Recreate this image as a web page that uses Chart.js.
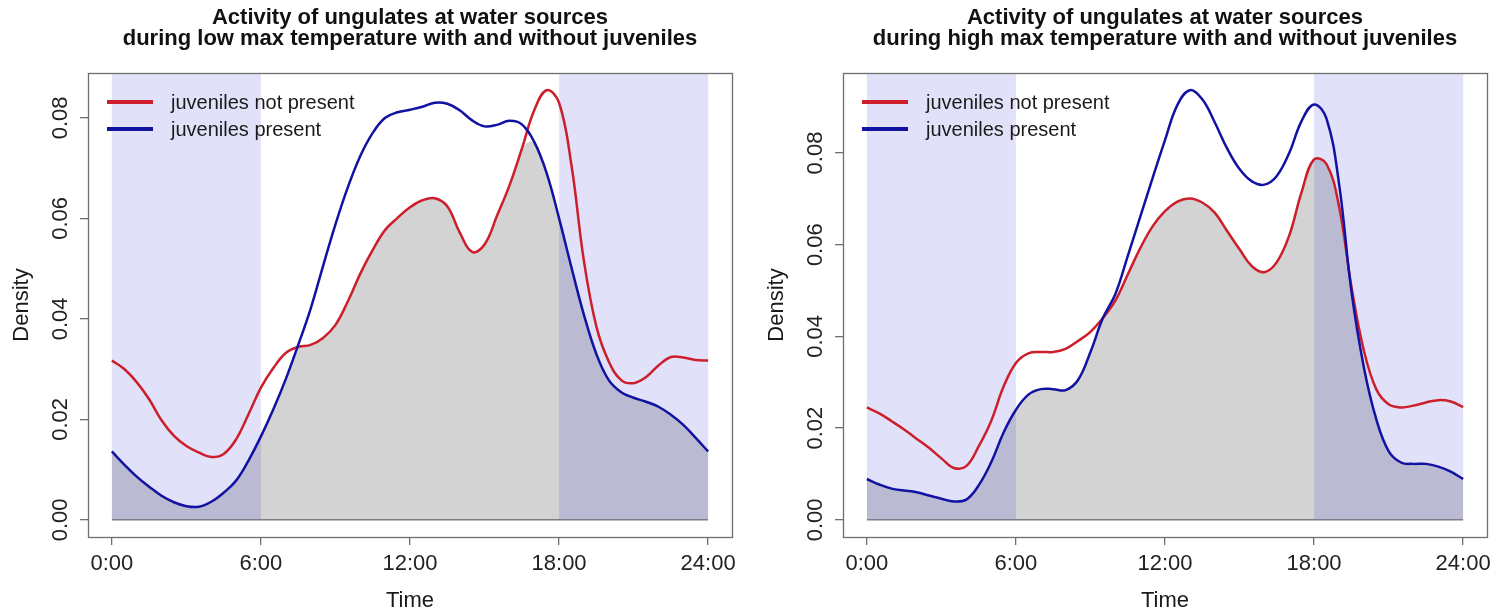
<!DOCTYPE html>
<html>
<head>
<meta charset="utf-8">
<script src="https://cdn.jsdelivr.net/npm/chart.js@4.4.1/dist/chart.umd.min.js"></script>
<style>
  html, body { margin: 0; padding: 0; background: #ffffff; }
  #wrap { position: relative; width: 1509px; height: 615px; overflow: hidden; }
  .panel { position: absolute; top: 0; height: 615px; }
</style>
</head>
<body>
<div id="wrap">
  <div class="panel" style="left:0;width:755px"><canvas id="lowTemp" width="755" height="615"></canvas></div>
  <div class="panel" style="left:755px;width:754px"><canvas id="highTemp" width="754" height="615"></canvas></div>
</div>
<script>
// Time of day (hours) at which the kernel densities are evaluated
const HOURS = [0, 0.5, 1, 1.5, 2, 2.5, 3, 3.5, 4, 4.5,
               5, 5.5, 6, 6.5, 7, 7.5, 8, 8.5, 9, 9.5,
               10, 10.5, 11, 11.5, 12, 12.5, 13, 13.5, 14, 14.5,
               15, 15.5, 16, 16.5, 17, 17.5, 18, 18.5, 19, 19.5,
               20, 20.5, 21, 21.5, 22, 22.5, 23, 23.5, 24];

// Low max temperature
const LOW_NO_JUV = [0.0317, 0.0300, 0.0274, 0.0240, 0.0198, 0.0167, 0.0147, 0.0134, 0.0125, 0.0131,
                    0.0160, 0.0210, 0.0263, 0.0302, 0.0332, 0.0344, 0.0348, 0.0362, 0.0388, 0.0435,
                    0.0490, 0.0537, 0.0577, 0.0601, 0.0622, 0.0636, 0.0640, 0.0624, 0.0572, 0.0533,
                    0.0548, 0.0605, 0.0665, 0.0738, 0.0815, 0.0855, 0.0830, 0.0705, 0.0515, 0.0385,
                    0.0315, 0.0278, 0.0272, 0.0284, 0.0307, 0.0324, 0.0323, 0.0318, 0.0317];
const LOW_JUV    = [0.0136, 0.0110, 0.0086, 0.0066, 0.0048, 0.0035, 0.0027, 0.0026, 0.0036, 0.0054,
                    0.0078, 0.0118, 0.0166, 0.0220, 0.0280, 0.0348, 0.0420, 0.0505, 0.0588, 0.0662,
                    0.0724, 0.0770, 0.0800, 0.0811, 0.0816, 0.0822, 0.0830, 0.0828, 0.0815, 0.0795,
                    0.0783, 0.0786, 0.0794, 0.0787, 0.0752, 0.0690, 0.0600, 0.0502, 0.0408, 0.0330,
                    0.0278, 0.0254, 0.0243, 0.0235, 0.0225, 0.0209, 0.0189, 0.0163, 0.0136];

// High max temperature
const HIGH_NO_JUV = [0.0245, 0.0232, 0.0215, 0.0197, 0.0177, 0.0157, 0.0134, 0.0113, 0.0117, 0.0160,
                     0.0215, 0.0290, 0.0342, 0.0363, 0.0366, 0.0366, 0.0373, 0.0390, 0.0410, 0.0440,
                     0.0478, 0.0535, 0.0592, 0.0640, 0.0673, 0.0694, 0.0701, 0.0692, 0.0670, 0.0630,
                     0.0590, 0.0553, 0.0540, 0.0562, 0.0620, 0.0715, 0.0786, 0.0776, 0.0685, 0.0510,
                     0.0370, 0.0285, 0.0252, 0.0245, 0.0249, 0.0256, 0.0261, 0.0258, 0.0246];
const HIGH_JUV    = [0.0089, 0.0077, 0.0068, 0.0064, 0.0060, 0.0053, 0.0046, 0.0040, 0.0044, 0.0075,
                     0.0125, 0.0190, 0.0240, 0.0273, 0.0285, 0.0285, 0.0283, 0.0305, 0.0366, 0.0440,
                     0.0492, 0.0575, 0.0660, 0.0745, 0.0828, 0.0905, 0.0937, 0.0917, 0.0867, 0.0810,
                     0.0765, 0.0738, 0.0731, 0.0750, 0.0800, 0.0870, 0.0906, 0.0875, 0.0735, 0.0500,
                     0.0334, 0.0220, 0.0150, 0.0125, 0.0122, 0.0122, 0.0116, 0.0105, 0.0089];

const X_TICKS = [0, 6, 12, 18, 24];
const X_TICK_LABELS = ['0:00', '6:00', '12:00', '18:00', '24:00'];
const Y_TICKS = [0, 0.02, 0.04, 0.06, 0.08];
const Y_TICK_LABELS = ['0.00', '0.02', '0.04', '0.06', '0.08'];
const NIGHT = [[0, 6], [18, 24]];
const SERIES_NAMES = ['juveniles not present', 'juveniles present'];
const TITLE_LOW = ['Activity of ungulates at water sources', 'during low max temperature with and without juveniles'];
const TITLE_HIGH = ['Activity of ungulates at water sources', 'during high max temperature with and without juveniles'];

const FONT = "'Liberation Sans', Arial, Helvetica, sans-serif";
const RED = '#cc1f2b';
const BLUE = '#1212a2';
const AXIS_GREY = '#6e6e6e';
const TEXT = '#1a1a1a';

Chart.defaults.font.family = FONT;
Chart.defaults.color = TEXT;

// Night periods shaded over the overlap area, under the density curves
const nightShade = {
  id: 'nightShade',
  afterDatasetDraw(chart, args) {
    if (!chart.data.datasets[args.index].overlapArea) return;
    const { ctx, chartArea, scales: { x, y } } = chart;
    const yZero = y.getPixelForValue(0);
    ctx.save();
    ctx.fillStyle = 'rgba(0, 0, 212, 0.118)';
    NIGHT.forEach(([a, b]) => {
      const x0 = x.getPixelForValue(a);
      const x1 = x.getPixelForValue(b);
      ctx.fillRect(x0, chartArea.top, x1 - x0, yZero - chartArea.top);
    });
    ctx.restore();
  }
};

// Frame around the plotting region
const frame = {
  id: 'frame',
  afterDraw(chart) {
    const { ctx, chartArea: a } = chart;
    ctx.save();
    ctx.strokeStyle = AXIS_GREY;
    ctx.lineWidth = 1.3;
    ctx.strokeRect(Math.round(a.left) + 0.5, Math.round(a.top) + 0.5,
                   Math.round(a.right - a.left), Math.round(a.bottom - a.top));
    ctx.restore();
  }
};

// Line legend in the top-left corner of the plotting region
const lineLegend = {
  id: 'lineLegend',
  afterDraw(chart) {
    const { ctx, chartArea: a } = chart;
    const items = [{ name: SERIES_NAMES[0], color: RED }, { name: SERIES_NAMES[1], color: BLUE }];
    ctx.save();
    ctx.font = '20px ' + FONT;
    ctx.textBaseline = 'middle';
    ctx.textAlign = 'left';
    items.forEach((it, i) => {
      const yy = a.top + 29 + i * 27;
      ctx.strokeStyle = it.color;
      ctx.lineWidth = 4;
      ctx.beginPath();
      ctx.moveTo(a.left + 19, yy);
      ctx.lineTo(a.left + 65, yy);
      ctx.stroke();
      ctx.fillStyle = TEXT;
      ctx.fillText(it.name, a.left + 83, yy + 1);
    });
    ctx.restore();
  }
};

function makePanel(canvasId, titleLines, notPresent, present, padRight) {
  const overlap = notPresent.map((v, i) => Math.min(v, present[i]));
  const peak = Math.max(...notPresent, ...present);
  const yPad = peak * 0.04;
  const first = HOURS[0];
  const last = HOURS[HOURS.length - 1];
  const xPad = (last - first) * 0.04;
  const pts = arr => HOURS.map((h, i) => ({ x: h, y: arr[i] }));

  const tickGrid = {
    drawOnChartArea: false,
    drawTicks: true,
    tickLength: 8,
    color: AXIS_GREY,
    lineWidth: 1.3
  };

  return new Chart(document.getElementById(canvasId), {
    type: 'line',
    data: {
      datasets: [
        { label: SERIES_NAMES[1], data: pts(present), borderColor: BLUE, borderWidth: 2.5,
          pointRadius: 0, tension: 0.4, fill: false, order: 1 },
        { label: SERIES_NAMES[0], data: pts(notPresent), borderColor: RED, borderWidth: 2.5,
          pointRadius: 0, tension: 0.4, fill: false, order: 2 },
        { label: 'zero', data: [{ x: first, y: 0 }, { x: last, y: 0 }], borderColor: '#7c7c86',
          borderWidth: 1.5, pointRadius: 0, fill: false, order: 3 },
        { label: 'overlap', data: pts(overlap), borderColor: 'rgba(0,0,0,0)', borderWidth: 0,
          backgroundColor: '#d3d3d3', pointRadius: 0, tension: 0.4,
          fill: 'origin', order: 4, overlapArea: true }
      ]
    },
    options: {
      responsive: false,
      devicePixelRatio: 1,
      animation: false,
      events: [],
      layout: { padding: { left: 0, right: padRight, top: 0, bottom: 0 } },
      scales: {
        x: {
          type: 'linear',
          min: first - xPad,
          max: last + xPad,
          afterBuildTicks: s => { s.ticks = X_TICKS.map(v => ({ value: v })); },
          afterFit: s => { s.height = 78; },
          ticks: {
            autoSkip: false, maxRotation: 0, minRotation: 0, padding: 6,
            color: '#222', font: { size: 22 },
            callback: (v, i) => X_TICK_LABELS[i]
          },
          grid: tickGrid,
          border: { display: false },
          title: { display: true, text: 'Time', color: TEXT, font: { size: 22 },
                   padding: { top: 0, bottom: 1 } }
        },
        y: {
          type: 'linear',
          min: -yPad,
          max: peak + yPad,
          afterBuildTicks: s => { s.ticks = Y_TICKS.map(v => ({ value: v })); },
          afterFit: s => { s.width = 88; },
          ticks: {
            minRotation: 90, maxRotation: 90, crossAlign: 'center', padding: -2,
            color: '#222', font: { size: 22 },
            callback: (v, i) => Y_TICK_LABELS[i]
          },
          grid: tickGrid,
          border: { display: false },
          title: { display: true, text: 'Density', color: TEXT, font: { size: 22 },
                   padding: { top: 9, bottom: 0 } }
        }
      },
      plugins: {
        legend: { display: false },
        tooltip: { enabled: false },
        title: {
          display: true,
          fullSize: false,
          text: titleLines,
          color: '#111111',
          font: { size: 22, weight: 'bold', lineHeight: 0.95 },
          padding: { top: 7.5, bottom: 23.7 }
        }
      }
    },
    plugins: [nightShade, frame, lineLegend]
  });
}

makePanel('lowTemp', TITLE_LOW, LOW_NO_JUV, LOW_JUV, 23);
makePanel('highTemp', TITLE_HIGH, HIGH_NO_JUV, HIGH_JUV, 22);
</script>
</body>
</html>
